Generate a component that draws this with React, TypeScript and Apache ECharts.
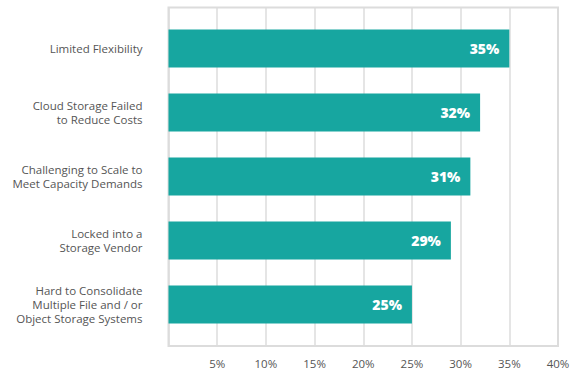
import React, { useEffect, useRef } from "react";
import * as echarts from "echarts";

const categories = [
  "Limited Flexibility",
  "Cloud Storage Failed\nto Reduce Costs",
  "Challenging to Scale to\nMeet Capacity Demands",
  "Locked into a\nStorage Vendor",
  "Hard to Consolidate\nMultiple File and / or\nObject Storage Systems",
];
const values = [35, 32, 31, 29, 25];
const axisMin = 0;
const axisMax = 40;
const axisStep = 5;

const TEAL = "#17A6A0";
const GRID_GRAY = "#DCDCDC";
const TEXT_GRAY = "#555555";
const FONT = "'Open Sans', sans-serif";

export default function App() {
  const ref = useRef<HTMLDivElement>(null);
  useEffect(() => {
    if (!ref.current) return;
    const chart = echarts.init(ref.current, undefined, { renderer: "svg" });
    chart.setOption({
      animation: false,
      backgroundColor: "#ffffff",
      textStyle: { fontFamily: FONT },
      grid: [
        {
          left: 168.5,
          right: 17,
          top: 7.5,
          height: 338.5,
          show: true,
          borderColor: GRID_GRAY,
          borderWidth: 2,
          backgroundColor: "rgba(0,0,0,0)",
          z: 3,
        },
        { left: 168.5, right: 17, top: 16.5, height: 320 },
      ],
      xAxis: [
        {
          gridIndex: 0,
          type: "value",
          min: axisMin,
          max: axisMax,
          interval: axisStep,
          axisLine: { show: false },
          axisTick: { show: false },
          splitLine: { show: true, lineStyle: { color: GRID_GRAY, width: 1.5 } },
          axisLabel: {
            color: TEXT_GRAY,
            fontSize: 11.5,
            fontFamily: FONT,
            margin: 11,
            formatter: (v: number) => (v === 0 ? "" : v + "%"),
          },
        },
        {
          gridIndex: 1,
          type: "value",
          min: axisMin,
          max: axisMax,
          show: false,
          splitLine: { show: false },
        },
      ],
      yAxis: [
        { gridIndex: 0, type: "value", show: false, splitLine: { show: false } },
        {
          gridIndex: 1,
          type: "category",
          inverse: true,
          data: categories,
          axisLine: { show: false },
          axisTick: { show: false },
          axisLabel: {
            color: TEXT_GRAY,
            fontSize: 11.5,
            fontFamily: FONT,
            lineHeight: 14,
            margin: 26,
            align: "right",
          },
        },
      ],
      series: [
        {
          type: "bar",
          xAxisIndex: 1,
          yAxisIndex: 1,
          data: values,
          barWidth: 38,
          itemStyle: { color: TEAL },
          z: 5,
          label: {
            show: true,
            position: "insideRight",
            distance: 10,
            color: "#ffffff",
            fontSize: 14,
            fontWeight: 800,
            fontFamily: FONT,
            formatter: (p: any) => p.value + "%",
          },
        },
      ],
    });
    return () => chart.dispose();
  }, []);
  return (
    <div
      ref={ref}
      style={{ position: "absolute", left: 0, top: 0, width: 575, height: 374 }}
    />
  );
}
